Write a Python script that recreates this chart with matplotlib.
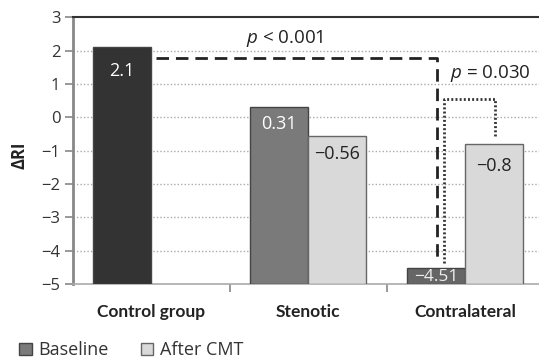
import numpy as np
import matplotlib.pyplot as plt
from matplotlib.patches import Patch

groups = ["Control group", "Stenotic", "Contralateral"]
baseline = [2.1, 0.31, -4.51]
after_cmt = [np.nan, -0.56, -0.8]
base_labels = ["2.1", "0.31", "\u22124.51"]
after_labels = ["", "\u22120.56", "\u22120.8"]
yticks = [3, 2, 1, 0, -1, -2, -3, -4, -5]

plt.rcParams['font.family'] = ['Open Sans', 'DejaVu Sans']
plt.rcParams['mathtext.fontset'] = 'custom'
plt.rcParams['mathtext.it'] = 'Open Sans:italic'
plt.rcParams['mathtext.rm'] = 'Open Sans'

fig = plt.figure(figsize=(5.39, 3.63), dpi=100)
ax = fig.add_axes([0.135, 0.2176, 0.865, 0.7344])

bottom = -5
x = np.arange(len(groups))
w = 0.37
base_cols = ["#333333", "#7a7a7a", "#666666"]
ax.bar(x - w / 2, np.array(baseline) - bottom, w, bottom=bottom, color=base_cols,
       edgecolor="#444444", linewidth=1, zorder=3)
ax.bar(x + w / 2, np.array(after_cmt) - bottom, w, bottom=bottom, color="#d9d9d9",
       edgecolor="#666666", linewidth=1, zorder=3)

# value labels
ax.text(x[0] - w / 2, 1.38, base_labels[0], color="white", ha="center", va="center", fontsize=13, zorder=4)
ax.text(x[1] - w / 2, -0.2, base_labels[1], color="white", ha="center", va="center", fontsize=13, zorder=4)
ax.text(x[2] - w / 2, -4.78, base_labels[2], color="#eeeeee", ha="center", va="center", fontsize=12.5, zorder=4)
ax.text(x[1] + w / 2, -1.1, after_labels[1], color="#222222", ha="center", va="center", fontsize=13, zorder=4)
ax.text(x[2] + w / 2, -1.47, after_labels[2], color="#222222", ha="center", va="center", fontsize=13, zorder=4)

# significance brackets
ax.plot([0.03, 1.818, 1.818], [1.78, 1.78, -4.25], color="#222222", linestyle=(0, (4.5, 2.5)),
        linewidth=2, zorder=5)
ax.plot([1.865, 1.865, 2.192, 2.192], [-4.38, 0.56, 0.56, -0.6], color="#333333", linestyle=(0, (0.7, 0.8)),
        linewidth=2, zorder=5)
ax.text(0.852, 2.37, r"$p$ < 0.001", ha="center", va="center", fontsize=13.5, color="#222222")
ax.text(2.16, 1.32, r"$p$ = 0.030", ha="center", va="center", fontsize=13.5, color="#222222")

ax.set_xlim(-0.5, 2.47)
ax.set_ylim(-5, 3)
ax.set_yticks(yticks)
ax.set_yticklabels([str(t).replace("-", "\u2212") for t in yticks], fontsize=12, color="#333333")
ax.tick_params(axis="y", direction="out", length=6, width=1.2, color="#888888", pad=3)
ax.set_xticks([0.5, 1.5])
ax.set_xticklabels([])
ax.tick_params(axis="x", direction="out", length=6, width=1.2, color="#888888")
for xi, g in zip(x, groups):
    ax.text(xi, -5.85, g, ha="center", va="center", fontsize=12.5, fontweight="bold",
            family=["Lato", "DejaVu Sans"], color="#222222")

for yv in [2, 1, 0, -1, -2, -3, -4]:
    ax.axhline(yv, color="#aaaaaa", linestyle=(0, (1, 1.5)), linewidth=1, zorder=1)

ax.spines["right"].set_visible(False)
ax.spines["top"].set_color("#333333")
ax.spines["top"].set_linewidth(1.5)
ax.spines["left"].set_color("#888888")
ax.spines["left"].set_linewidth(2)
ax.spines["bottom"].set_color("#aaaaaa")
ax.spines["bottom"].set_linewidth(1.2)

fig.text(0.037, 0.573, "\u0394RI", rotation=90, ha="center", va="center", fontsize=12,
         fontweight="bold", color="#222222")

handles = [Patch(facecolor="#7a7a7a", edgecolor="#444444", label="Baseline"),
           Patch(facecolor="#d9d9d9", edgecolor="#666666", label="After CMT")]
fig.legend(handles=handles, loc="lower left", bbox_to_anchor=(0.005, -0.035), ncol=2, frameon=False,
           fontsize=13, handlelength=0.7, handleheight=0.7, handletextpad=0.35, columnspacing=1.8,
           labelcolor="#333333")

fig.savefig("out.png", dpi=100)
